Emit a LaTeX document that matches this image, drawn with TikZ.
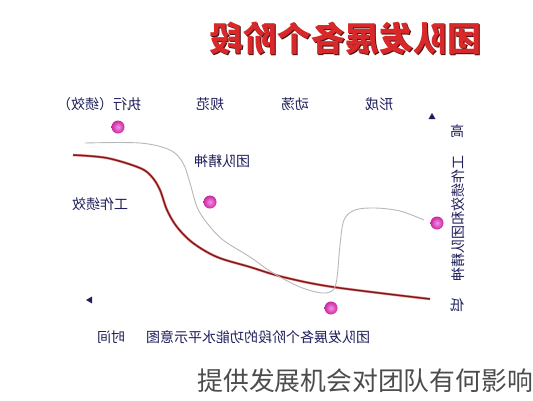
\documentclass[tikz,border=0pt]{standalone}
\usepackage{fontspec}
\newfontfamily\cjk{Noto Sans CJK SC}
\usetikzlibrary{shapes.geometric}
\definecolor{navy}{HTML}{1E1E5C}
\definecolor{titlered}{HTML}{D8282A}
\definecolor{titleshadow}{HTML}{4A1010}
\definecolor{curvered}{HTML}{7A1A1A}
\definecolor{glowred}{HTML}{F08A8A}
\definecolor{graycurve}{HTML}{B8B8B8}
\definecolor{dotin}{HTML}{F590E6}
\definecolor{dotout}{HTML}{C8289E}
\begin{document}
\begin{tikzpicture}[x=1pt,y=-1pt,
  lbl/.style={font=\cjk\fontsize{14}{14}\selectfont, text=navy, inner sep=0pt},
  titlefont/.style={font=\cjk\bfseries\fontsize{34}{34}\selectfont, inner sep=0pt},
  pdot/.style={circle, minimum size=13pt, inner sep=0pt, shading=radial, inner color=dotin, outer color=dotout},
  tri/.style={isosceles triangle, isosceles triangle apex angle=60, fill=navy, inner sep=0pt, minimum size=6pt},
  redcurve/.style={curvered, line width=1.4pt},
  redglow/.style={glowred, line width=2.6pt},
  graycurvestyle/.style={graycurve, line width=0.9pt}
]
\useasboundingbox (0,0) rectangle (533,400);
\fill[white] (0,0) rectangle (533,400);

% title
\node[titlefont, text=titleshadow] (titleshadow) at (346,39) {\reflectbox{团队发展各个阶段}};
\node[titlefont, text=titlered] (title) at (345,38) {\reflectbox{团队发展各个阶段}};

% top stage labels
\node[lbl] (zhixing) at (99,104) {\reflectbox{执行（绩效）}};
\node[lbl] (guifan) at (210,104) {\reflectbox{规范}};
\node[lbl] (dongdang) at (295,104) {\reflectbox{动荡}};
\node[lbl] (xingcheng) at (379,104) {\reflectbox{形成}};

% axis markers
\node[tri, shape border rotate=90] (uptri) at (432,117) {};
\node[tri, shape border rotate=180] (lefttri) at (90,300) {};

% right vertical axis text
\node[lbl] (gao) at (457,131) {\reflectbox{高}};
\node[lbl] (vaxis) at (458,218) {\reflectbox{\rotatebox{-90}{工作绩效和团队精神}}};
\node[lbl] (di) at (457,305) {\reflectbox{低}};

% curve labels
\node[lbl] (tuandui) at (222,161) {\reflectbox{团队精神}};
\node[lbl] (gongzuo) at (100,204) {\reflectbox{工作绩效}};

% bottom labels
\node[lbl] (caption) at (258,337) {\reflectbox{团队发展各个阶段的功能水平示意图}};
\node[lbl] (shijian) at (111,337) {\reflectbox{时间}};

% curves
\draw[redglow] plot[smooth, tension=0.55] coordinates {(73,155) (107,158) (140,168) (152,177) (160,190) (167,210) (177,227) (193,243) (217,257) (250,267) (283,277) (333,287) (430,299)};
\draw[redcurve] plot[smooth, tension=0.55] coordinates {(73,155) (107,158) (140,168) (152,177) (160,190) (167,210) (177,227) (193,243) (217,257) (250,267) (283,277) (333,287) (430,299)};
\draw[graycurvestyle] plot[smooth, tension=0.55] coordinates {(85,143) (140,143) (170,150) (183,163) (190,183) (197,207) (207,223) (223,240) (250,257) (273,273) (300,287) (322,293) (333,290) (337,278) (340,245) (344,220) (355,210) (375,208) (400,211) (424,220)};

% dots
\node[pdot] (d1) at (118,127) {};
\node[pdot] (d2) at (210,202) {};
\node[pdot] (d3) at (331,308) {};
\node[pdot] (d4) at (437,223) {};

% bottom caption
\node[font=\cjk\fontsize{25.8}{26}\selectfont, text=black!70, inner sep=0pt, anchor=east] (bottomtext) at (533,381) {提供发展机会对团队有何影响};
\end{tikzpicture}
\end{document}
